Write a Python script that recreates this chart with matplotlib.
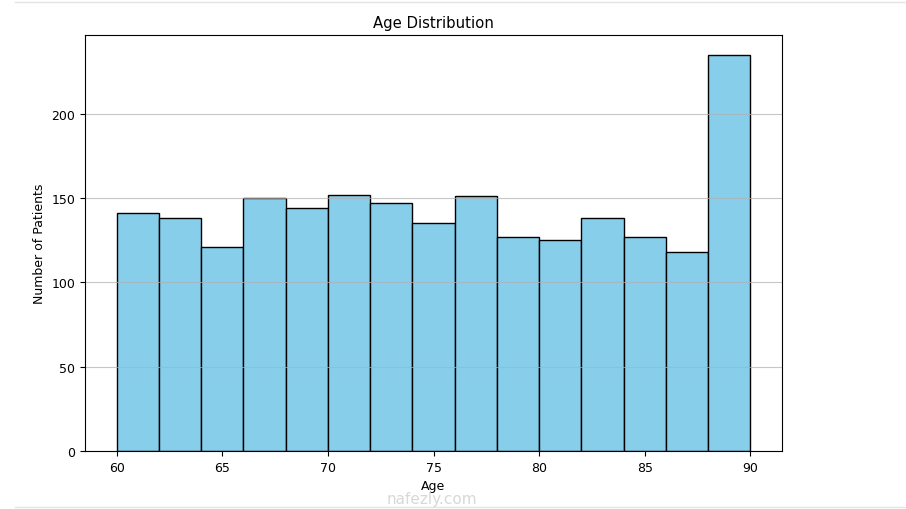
import matplotlib.pyplot as plt
import numpy as np

# bin edges and patient counts
bin_edges = np.arange(60, 92, 2)
counts = [141, 138, 121, 150, 144, 152, 147, 135, 151, 127, 125, 138, 127, 118, 235]

fig = plt.figure(figsize=(9.06, 5.1), dpi=100)
ax = fig.add_axes([85 / 906, 1 - 452 / 510, (782 - 85) / 906, (452 - 36) / 510])

ax.bar(bin_edges[:-1], counts, width=np.diff(bin_edges), align='edge',
       color='skyblue', edgecolor='black')

ax.set_title("Age Distribution", fontsize=10.7)
ax.set_xlabel("Age", fontsize=9)
ax.set_ylabel("Number of Patients", fontsize=9)
ax.tick_params(axis='both', labelsize=9)
ax.grid(axis='y', alpha=0.7)

# faint page borders and watermark
fig.add_artist(plt.Line2D([15 / 906, 1], [1 - 3 / 510] * 2, color='#e4e4e4', lw=1))
fig.add_artist(plt.Line2D([15 / 906, 1], [1 - 508 / 510] * 2, color='#e4e4e4', lw=1))
fig.text(432 / 906, 1 - 500 / 510, "nafezly.com", color='#d8d8d8', fontsize=11,
         ha='center', va='center')

plt.savefig('out.png', dpi=100)
